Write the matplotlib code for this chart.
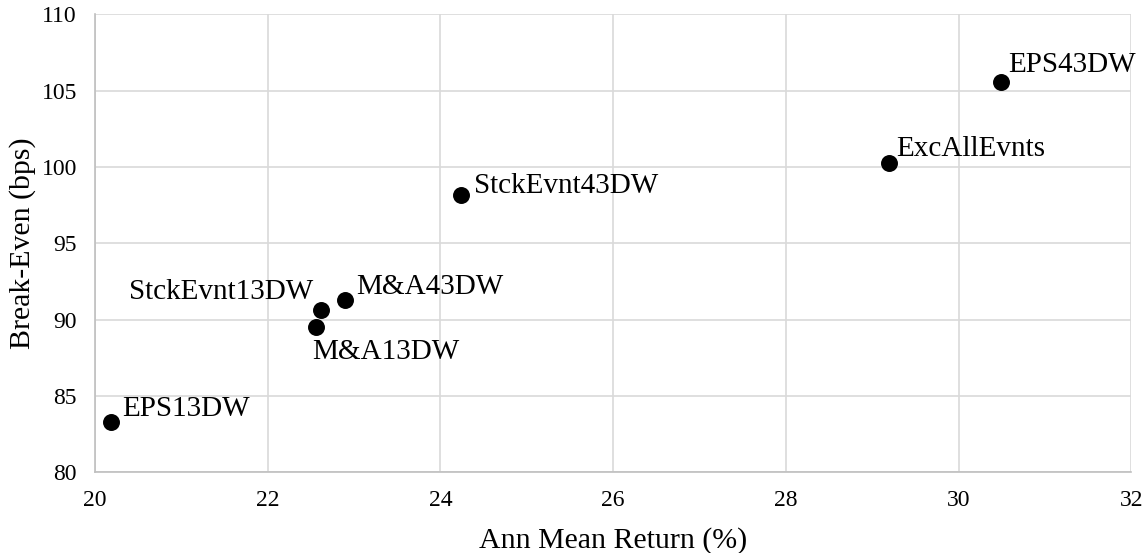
import matplotlib
matplotlib.use("Agg")
import matplotlib.pyplot as plt

# strategy results
names = ["EPS13DW", "M&A13DW", "StckEvnt13DW", "M&A43DW",
         "StckEvnt43DW", "ExcAllEvnts", "EPS43DW"]
ann_return = [20.18, 22.56, 22.62, 22.90, 24.24, 29.20, 30.49]
break_even = [83.3, 89.55, 90.6, 91.3, 98.15, 100.25, 105.6]

# label offsets (points) and alignment for each point
offsets = [(8, 9, "left"), (-3, -18, "left"), (-6, 13, "right"), (8, 9, "left"),
           (9, 7, "left"), (5, 10, "left"), (5, 12, "left")]

plt.rcParams["font.family"] = ["Liberation Serif", "DejaVu Serif"]

fig = plt.figure(figsize=(11.45, 5.53), dpi=100)
ax = fig.add_axes([0.083, 0.146, 0.905, 0.828])

ax.scatter(ann_return, break_even, s=125, color="black", zorder=3)
for name, x, y, (dx, dy, ha) in zip(names, ann_return, break_even, offsets):
    ax.annotate(name, (x, y), xytext=(dx, dy), textcoords="offset points",
                ha=ha, va="center", fontsize=21)

ax.set_xlim(20, 32)
ax.set_ylim(80, 110)
ax.set_xticks(range(20, 33, 2))
ax.set_yticks(range(80, 111, 5))
ax.grid(True, color="#d9d9d9", linewidth=1.2)
ax.set_axisbelow(True)
for side in ["top", "right"]:
    ax.spines[side].set_visible(False)
for side in ["left", "bottom"]:
    ax.spines[side].set_color("#bfbfbf")
    ax.spines[side].set_linewidth(1.2)
ax.tick_params(length=0, labelsize=17, pad=13)

ax.set_xlabel("Ann Mean Return (%)", fontsize=21.5, labelpad=11)
ax.set_ylabel("Break-Even (bps)", fontsize=21.5, labelpad=4)

fig.savefig("out.png", dpi=100)
